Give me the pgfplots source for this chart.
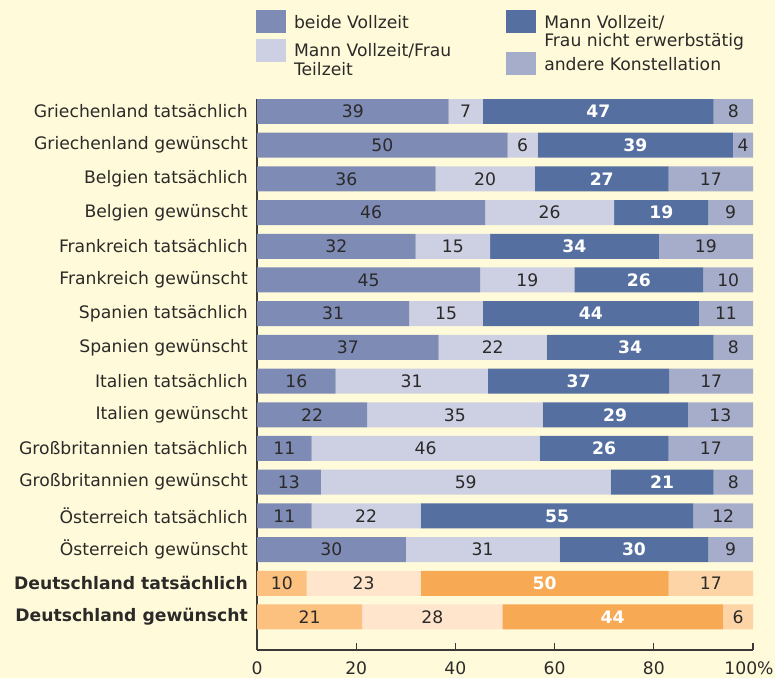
\documentclass[border=0pt]{standalone}
\usepackage{pgfplots}
\usepackage{pgfplotstable}
\pgfplotsset{compat=1.18}
\usepackage{fontspec}
\setmainfont{DejaVu Sans}
\definecolor{bg}{HTML}{FFFBDA}
\definecolor{bA}{HTML}{7D8BB5}
\definecolor{bB}{HTML}{CDD0E3}
\definecolor{bC}{HTML}{546FA0}
\definecolor{bD}{HTML}{A6ADCB}
\definecolor{oA}{HTML}{FCC07F}
\definecolor{oB}{HTML}{FEE5CB}
\definecolor{oC}{HTML}{F8A953}
\definecolor{oD}{HTML}{FDD4A6}
\definecolor{txt}{HTML}{2B2A29}
\definecolor{axl}{HTML}{3A3A3A}

\pgfplotstableread{
y a b c d la lb lc ld
15 38.61 6.93 46.53 7.93 39 7 47 8
14 50.51 6.06 39.39 4.04 50 6 39 4
13 36 20 27 17 36 20 27 17
12 46 26 19 9 46 26 19 9
11 32 15 34 19 32 15 34 19
10 45 19 26 10 45 19 26 10
9 30.69 14.85 43.56 10.90 31 15 44 11
8 36.63 21.78 33.66 7.93 37 22 34 8
7 15.84 30.69 36.63 16.84 16 31 37 17
6 22.22 35.35 29.29 13.14 22 35 29 13
5 11 46 26 17 11 46 26 17
4 12.87 58.42 20.79 7.92 13 59 21 8
3 11 22 55 12 11 22 55 12
2 30 31 30 9 30 31 30 9
}\countries
\pgfplotstableread{
y a b c d la lb lc ld
1 10 23 50 17 10 23 50 17
0 21.21 28.28 44.45 6.06 21 28 44 6
}\germany

\pgfplotsset{
  base/.style={
    scale only axis, width=496pt, height=551pt,
    xmin=0, xmax=100, ymin=-0.98, ymax=15.37,
    at={(257pt,-650pt)}, anchor=south west,
  },
  seg/.style={fill=#1, draw=none},
  lab/.style={draw=none, mark=none, nodes near coords, point meta=explicit symbolic,
    every node near coord/.append style={anchor=center, text=txt, inner sep=0pt}},
  labw/.style={lab, every node near coord/.append style={text=white, font=\bfseries}},
  sq/.style={legend image code/.code={\fill[##1] (0pt,-5pt) rectangle (30pt,18pt);}},
  sqlow/.style={legend image code/.code={\fill[##1] (0pt,-18.5pt) rectangle (30pt,4.5pt);}},
}

\begin{document}
\fontsize{17.2pt}{18.5pt}\selectfont
\begin{tikzpicture}
\useasboundingbox (0,0) rectangle (775pt,-678pt);
\fill[bg] (0,0) rectangle (775pt,-678pt);
\begin{axis}[base, xbar stacked, bar width=25pt,
  axis x line*=bottom, axis y line*=left,
  axis line style={draw=axl, line width=1.8pt},
  xtick={0,20,40,60,80,100}, xticklabels={0,20,40,60,80,\kern-8pt100\%},
  tick align=inside, major tick length=7pt,
  xtick style={draw=axl, line width=1.2pt},
  ytick={0,...,15},
  yticklabels={\textbf{Deutschland gewünscht},\textbf{Deutschland tatsächlich},
    Österreich gewünscht,Österreich tatsächlich,
    Großbritannien gewünscht,Großbritannien tatsächlich,
    Italien gewünscht,Italien tatsächlich,
    Spanien gewünscht,Spanien tatsächlich,
    Frankreich gewünscht,Frankreich tatsächlich,
    Belgien gewünscht,Belgien tatsächlich,
    Griechenland gewünscht,Griechenland tatsächlich},
  ytick style={draw=none},
  ticklabel style={text=txt},
  yticklabel style={inner sep=0pt, anchor=east, xshift=-9pt},
  xticklabel style={inner sep=0pt, anchor=north, yshift=-12pt},
  legend columns=2, transpose legend,
  legend style={at={(-0.002,1.1615)}, anchor=north west, draw=none, fill=none,
    inner sep=0pt, outer sep=0pt, text=txt,
    cells={anchor=base west, inner sep=0pt},
    /tikz/every odd column/.append style={column sep=6pt},
    /tikz/every even column/.append style={column sep=53pt},
    row sep=5.5pt},
]
\addplot[seg=bA, sq] table[x=a, y=y] {\countries};
\addlegendentry{beide Vollzeit}
\addplot[seg=bB, sq] table[x=b, y=y] {\countries};
\addlegendentry{\vtop{\hbox{Mann Vollzeit/Frau}\hbox{Teilzeit}}}
\addplot[seg=bC, sq] table[x=c, y=y] {\countries};
\addlegendentry{\vtop{\hbox{Mann Vollzeit/}\hbox{Frau nicht erwerbstätig}}}
\addplot[seg=bD, sqlow] table[x=d, y=y] {\countries};
\addlegendentry{\raisebox{-13.5pt}{andere Konstellation}}
\end{axis}
\begin{axis}[base, xbar stacked, bar width=25pt, hide axis]
\addplot[seg=oA] table[x=a, y=y] {\germany};
\addplot[seg=oB] table[x=b, y=y] {\germany};
\addplot[seg=oC] table[x=c, y=y] {\germany};
\addplot[seg=oD] table[x=d, y=y] {\germany};
\end{axis}
\begin{axis}[base, hide axis]
\addplot[lab] table[x expr=\thisrow{a}/2, y=y, meta=la] {\countries};
\addplot[lab] table[x expr=\thisrow{a}+\thisrow{b}/2, y=y, meta=lb] {\countries};
\addplot[labw] table[x expr=\thisrow{a}+\thisrow{b}+\thisrow{c}/2, y=y, meta=lc] {\countries};
\addplot[lab] table[x expr=\thisrow{a}+\thisrow{b}+\thisrow{c}+\thisrow{d}/2, y=y, meta=ld] {\countries};
\addplot[lab] table[x expr=\thisrow{a}/2, y=y, meta=la] {\germany};
\addplot[lab] table[x expr=\thisrow{a}+\thisrow{b}/2, y=y, meta=lb] {\germany};
\addplot[labw] table[x expr=\thisrow{a}+\thisrow{b}+\thisrow{c}/2, y=y, meta=lc] {\germany};
\addplot[lab] table[x expr=\thisrow{a}+\thisrow{b}+\thisrow{c}+\thisrow{d}/2, y=y, meta=ld] {\germany};
\end{axis}
\end{tikzpicture}
\end{document}
